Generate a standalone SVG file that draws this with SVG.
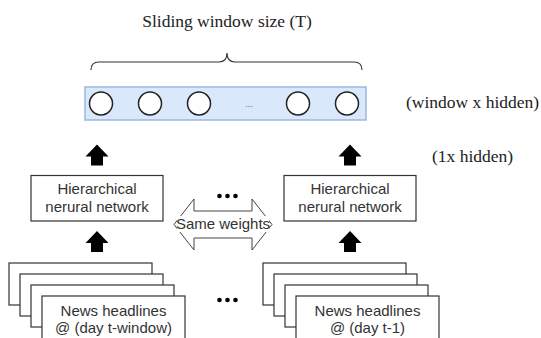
<svg xmlns="http://www.w3.org/2000/svg" width="541" height="338" viewBox="0 0 541 338">
<style>
.serif{font-family:"Liberation Serif","Times New Roman",serif;font-size:17.5px;fill:#222}
.sans{font-family:"Liberation Sans",Arial,sans-serif;font-size:15px;fill:#333;text-anchor:middle}
.box{fill:#fff;stroke:#333;stroke-width:1.2}
.unit{fill:#fff;stroke:#222;stroke-width:1.5}
.dot{fill:#000}
.barrow{fill:#000}
</style>
<defs>
<path id="up" d="M0,0 L11.5,12 L6,12 L6,21 L-6,21 L-6,12 L-11.5,12 Z"/>
</defs>
<text class="serif" x="227" y="27" text-anchor="middle">Sliding window size (T)</text>
<path d="M91,70 Q91,62 99,62 L219,62 Q227,62 227,53 Q227,62 235,62 L354,62 Q362,62 362,70" fill="none" stroke="#333" stroke-width="1.2"/>
<g id="hidden-vector">
<rect x="85" y="87" width="281" height="33" fill="#dae8fc" stroke="#9db7e0" stroke-width="1.5"/>
<circle class="unit" cx="101" cy="103.5" r="11.5"/>
<circle class="unit" cx="150" cy="103.5" r="11.5"/>
<circle class="unit" cx="199" cy="103.5" r="11.5"/>
<text x="249" y="107" text-anchor="middle" font-family="Liberation Sans,Arial,sans-serif" font-size="9" fill="#666">...</text>
<circle class="unit" cx="298" cy="103.5" r="11.5"/>
<circle class="unit" cx="347" cy="103.5" r="11.5"/>
</g>
<text class="serif" x="406" y="108">(window x hidden)</text>
<text class="serif" x="432" y="162">(1x hidden)</text>
<g id="connectors">
<use href="#up" class="barrow" x="97" y="144.5"/>
<use href="#up" class="barrow" x="350" y="144.5"/>
<use href="#up" class="barrow" x="97" y="231"/>
<use href="#up" class="barrow" x="350" y="231"/>
</g>
<g id="hnn-left">
<rect class="box" x="31" y="175.5" width="132" height="45.5"/>
<text class="sans" x="97" y="194">Hierarchical<tspan x="97" dy="18">nerural network</tspan></text>
</g>
<g id="hnn-right">
<rect class="box" x="284" y="175.5" width="132" height="45.5"/>
<text class="sans" x="350" y="194">Hierarchical<tspan x="350" dy="18">nerural network</tspan></text>
</g>
<g id="dots-top">
<circle class="dot" cx="219.5" cy="196" r="2.3"/>
<circle class="dot" cx="227.5" cy="196" r="2.3"/>
<circle class="dot" cx="235.5" cy="196" r="2.3"/>
</g>
<g id="same-weights">
<path d="M174,224.5 L194,199 L194,211 L252,211 L252,199 L272,224.5 L252,250 L252,238 L194,238 L194,250 Z" fill="#fff" stroke="#444" stroke-width="1"/>
<rect x="177" y="216" width="92" height="16" fill="#fff"/>
<text class="sans" x="223" y="229">Same weights</text>
</g>
<g id="news-left">
<rect class="box" x="9" y="263" width="143" height="42"/>
<rect class="box" x="20" y="274" width="143" height="42"/>
<rect class="box" x="31" y="285" width="143" height="42"/>
<rect class="box" x="42" y="296" width="143" height="46"/>
<text class="sans" x="113.5" y="316">News headlines<tspan x="113.5" dy="17">@ (day t-window)</tspan></text>
</g>
<g id="dots-bottom">
<circle class="dot" cx="219.5" cy="300" r="2.3"/>
<circle class="dot" cx="227.5" cy="300" r="2.3"/>
<circle class="dot" cx="235.5" cy="300" r="2.3"/>
</g>
<g id="news-right">
<rect class="box" x="263" y="263" width="143" height="42"/>
<rect class="box" x="274" y="274" width="143" height="42"/>
<rect class="box" x="285" y="285" width="143" height="42"/>
<rect class="box" x="296" y="296" width="143" height="46"/>
<text class="sans" x="367.5" y="316">News headlines<tspan x="367.5" dy="17">@ (day t-1)</tspan></text>
</g>
</svg>
